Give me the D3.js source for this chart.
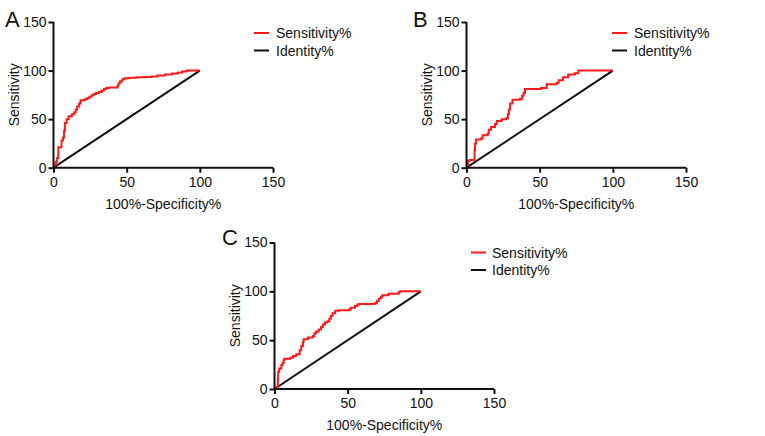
<!DOCTYPE html>
<html><head><meta charset="utf-8">
<script src="https://cdn.jsdelivr.net/npm/d3@7"></script>
<style>
html,body{margin:0;padding:0;background:#fff;}
svg text{font-family:"Liberation Sans",Arial,Helvetica,sans-serif;fill:#111;}
</style></head>
<body>
<svg id="chart" width="765" height="436"></svg>
<script>
// ---- data ----
const panelLabels = ["A", "B", "C"];
const xTicks = [0, 50, 100, 150];
const yTicks = [0, 50, 100, 150];
const xTitle = "100%-Specificity%";
const yTitle = "Sensitivity";
const legendLabels = ["Sensitivity%", "Identity%"];
const identityX = [0, 100];
const identityY = [0, 100];

const fprA = [0,0.8,1.6,2.5,3.3,5.5,6.5,7.2,7.8,9,10.3,12.6,14.2,15.2,16.2,17.5,18.5,21.5,23,24.5,26,27.5,29,31,33,34.5,36,38,43.8,44.5,45.5,47,48.5,52,57,62,67,71,76,81,85,88,91,100];
const tprA = [0,3,6,10,21,28,31,38,46,50,53,55,57,60,63,66,69.5,70.5,71.5,73,74.5,76,77,78,79.5,81,82,82.5,84.5,87,89,91,92,92.5,93,93.5,94,95,96,97,98,99,100,100];

const fprB = [0,0.5,1,2,5.5,5.8,6.6,10,11,14.5,15.2,16.8,19.5,20.7,24,27,28.3,29,29.8,31.4,36.6,38,39,40,51,54.8,61.6,63,66,69.5,74,76.4,100];
const tprB = [0,3,7,8,18,25,29,30,33.5,35,39,42,45,48,50,51,55,60,66,70,71,74,77,81,82,86,87.5,90,93,96,97.3,100,100];

const fprC = [0,0.8,1.5,2.3,2.5,3.2,4.7,5.5,6.3,7,10.8,12.6,14.9,17.2,18.3,19.5,19.9,22.8,26.2,27.3,28.5,30.2,31.8,33,34.5,36,37.5,38.5,39.7,41.5,44.2,51,52,55,56.7,57.8,68,69,70,71.3,72.5,73.6,78,84.9,86,100];
const tprC = [0,1,2,10,17.7,21,24.5,27,30,31,32,33.7,35.7,39.8,44,48,51,52.7,54,57,59,61,63.6,66,68,69,72,75,77.5,80,80.6,81.3,83.3,85,86.5,87,87.2,88,90,92.5,94,96,97.6,99.3,100,100];

// ---- layout ----
const panels = [
  {label: panelLabels[0], fpr: fprA, tpr: tprA, x0: 53.5, x1: 273, y0: 167.7, y1: 22,
   lab: [5, 27], leg: [254, 276, 33]},
  {label: panelLabels[1], fpr: fprB, tpr: tprB, x0: 466.5, x1: 686, y0: 167.7, y1: 22,
   lab: [413, 27], leg: [612, 634, 33]},
  {label: panelLabels[2], fpr: fprC, tpr: tprC, x0: 274.5, x1: 494, y0: 389, y1: 242.5,
   lab: [222, 245], leg: [471, 492, 252.5]}
];

const svg = d3.select("#chart");

panels.forEach(p => {
  const x = d3.scaleLinear().domain([0, 150]).range([p.x0, p.x1]);
  const y = d3.scaleLinear().domain([0, 150]).range([p.y0, p.y1]);
  const g = svg.append("g");

  // identity line
  const idLine = d3.line().x((d, i) => x(identityX[i])).y((d, i) => y(identityY[i]));
  g.append("path").attr("d", idLine(identityX)).attr("fill", "none")
    .attr("stroke", "#111").attr("stroke-width", 2);

  // ROC step curve
  const roc = d3.line().x((d, i) => x(p.fpr[i])).y((d, i) => y(p.tpr[i])).curve(d3.curveStepAfter);
  g.append("path").attr("d", roc(p.fpr)).attr("fill", "none")
    .attr("stroke", "#ff1a1a").attr("stroke-width", 2).attr("stroke-linejoin", "miter");

  // axes
  const xa = g.append("g").attr("transform", `translate(0,${p.y0})`)
    .call(d3.axisBottom(x).tickValues(xTicks).tickSize(5).tickPadding(4).tickFormat(d3.format("d")));
  const ya = g.append("g").attr("transform", `translate(${p.x0},0)`)
    .call(d3.axisLeft(y).tickValues(yTicks).tickSize(5).tickPadding(2).tickFormat(d3.format("d")));
  [xa, ya].forEach(a => {
    a.select(".domain").attr("stroke", "#111").attr("stroke-width", 2);
    a.selectAll(".tick line").attr("stroke", "#111").attr("stroke-width", 2);
    a.selectAll(".tick text").attr("font-size", 14).attr("fill", "#111")
      .style("font-family", '"Liberation Sans",Arial,sans-serif');
  });
  xa.select(".domain").attr("d", `M${p.x0},0H${p.x1}`);
  ya.select(".domain").attr("d", `M0,${p.y1}V${p.y0}`);

  // axis titles
  g.append("text").attr("x", (p.x0 + p.x1) / 2).attr("y", p.y0 + 41)
    .attr("text-anchor", "middle").attr("font-size", 14).text(xTitle);
  g.append("text").attr("transform", `translate(${p.x0 - 35},${(p.y0 + p.y1) / 2}) rotate(-90)`)
    .attr("text-anchor", "middle").attr("font-size", 14).text(yTitle);

  // panel letter
  g.append("text").attr("x", p.lab[0]).attr("y", p.lab[1]).attr("font-size", 22).text(p.label);

  // legend
  const colors = ["#ff1a1a", "#111"];
  legendLabels.forEach((t, i) => {
    const ly = p.leg[2] + i * 17.5;
    g.append("line").attr("x1", p.leg[0]).attr("x2", p.leg[0] + 15)
      .attr("y1", ly).attr("y2", ly).attr("stroke", colors[i]).attr("stroke-width", 2);
    g.append("text").attr("x", p.leg[1]).attr("y", ly + 5).attr("font-size", 14).text(t);
  });
});
</script>
</body></html>
